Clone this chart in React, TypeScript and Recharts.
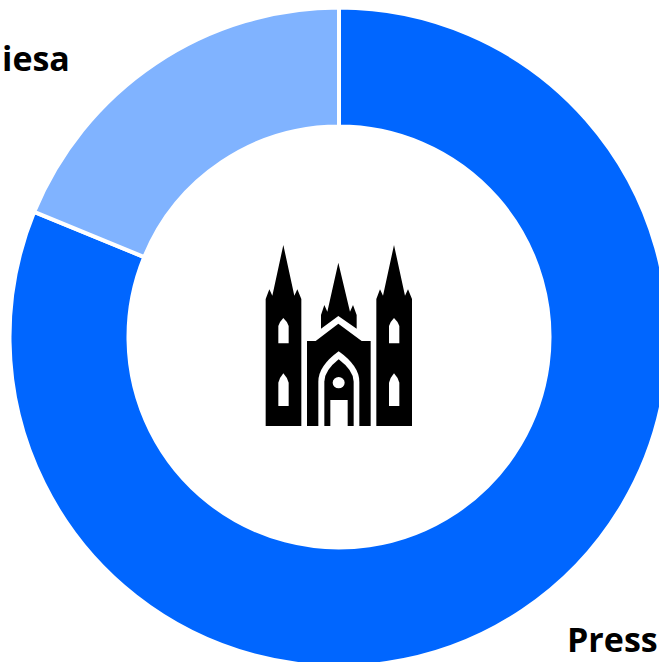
import { PieChart, Pie, Cell } from "recharts";

const categories = ["Press", "iesa"];
const seriesValues = [81.2, 18.8];
const sliceColors = ["#0066ff", "#80b3ff"];

const pieData = categories.map((name, i) => ({ name, value: seriesValues[i] }));

const labelFont = { fontFamily: "'Open Sans', sans-serif", fontWeight: 700, fontSize: 34, fill: "#000" };

function ChurchIcon() {
  // drawn at 3x then scaled down
  const tower =
    "M77,588 V207 L88,178 L97,197 L130,45 L163,197 L172,178 L184,207 V588 Z";
  const windowUp = "M115,340 V288 Q118,276 130,264 Q143,276 146,288 V340 Z";
  const windowLow = "M115,528 V458 Q118,444 130,430 Q143,444 146,458 V528 Z";
  return (
    <svg
      width={200}
      height={210}
      viewBox="0 0 600 630"
      style={{ position: "absolute", left: 240, top: 230 }}
    >
      <path d={tower} fill="#000" />
      <path d={windowUp} fill="#fff" />
      <path d={windowLow} fill="#fff" />
      <g transform="translate(332,0)">
        <path d={tower} fill="#000" />
        <path d={windowUp} fill="#fff" />
        <path d={windowLow} fill="#fff" />
      </g>
      {/* centre spire */}
      <path
        d="M243,296 V255 L253,225 L262,245 L295,98 L330,245 L339,225 L350,255 V296 L295,258 Z"
        fill="#000"
      />
      {/* nave with arch and door */}
      <path d="M201,588 V333 H227 L295,281 L365,333 H392 V588 Z" fill="#000" />
      <path d="M235,588 V455 Q235,408 296,364 Q358,408 358,455 V588 Z" fill="#fff" />
      <path d="M253,588 V455 Q253,422 296,388 Q341,422 341,455 V588 Z" fill="#000" />
      <rect x={271} y={510} width={52} height={78} fill="#fff" />
      <ellipse cx={296} cy={458} rx={18} ry={17} fill="#fff" />
    </svg>
  );
}

export default function App() {
  return (
    <div
      style={{
        position: "absolute",
        left: 0,
        top: 0,
        width: 659,
        height: 662,
        overflow: "hidden",
        background: "#fff",
      }}
    >
      <PieChart width={659} height={662} margin={{ top: 0, right: 0, bottom: 0, left: 0 }}>
        <Pie
          data={pieData}
          dataKey="value"
          nameKey="name"
          cx={339}
          cy={337}
          innerRadius={210.5}
          outerRadius={329.5}
          startAngle={90}
          endAngle={-270}
          stroke="#fff"
          strokeWidth={4}
          isAnimationActive={false}
          labelLine={false}
          label={({ index }: { index: number }) =>
            index === 0 ? (
              <text x={567} y={652} {...labelFont}>
                {categories[0]}
              </text>
            ) : (
              <text x={2} y={71} {...labelFont}>
                {categories[1]}
              </text>
            )
          }
        >
          {pieData.map((d, i) => (
            <Cell key={d.name} fill={sliceColors[i]} />
          ))}
        </Pie>
      </PieChart>
      <ChurchIcon />
    </div>
  );
}
